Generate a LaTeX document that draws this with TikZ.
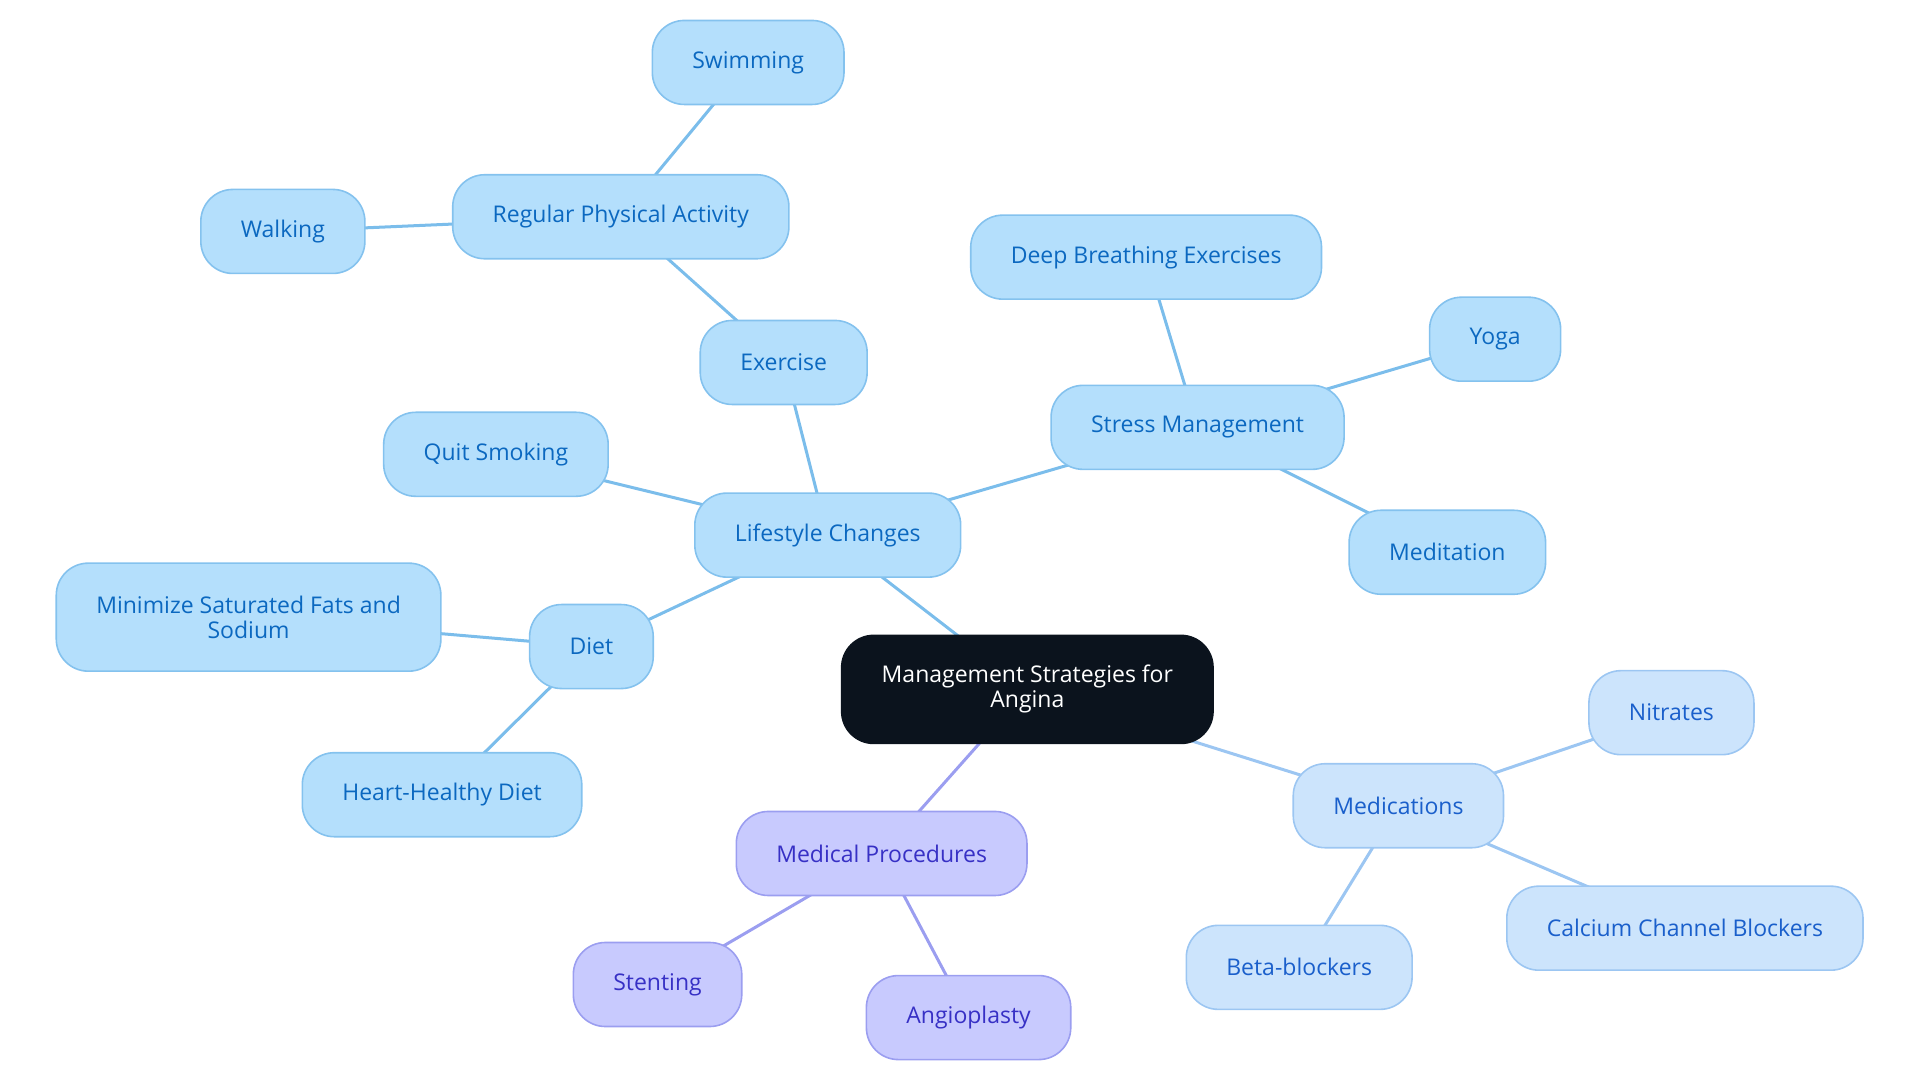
\documentclass[tikz,border=0pt]{standalone}
\usepackage{fontspec}
\setmainfont{Open Sans}
\usepackage{tikz}
\usetikzlibrary{backgrounds}
\definecolor{lcfill}{HTML}{B4DFFC}
\definecolor{lcdraw}{HTML}{84C2EE}
\definecolor{lcline}{HTML}{7BBDEB}
\definecolor{lctext}{HTML}{0B68C0}
\definecolor{mdfill}{HTML}{CCE4FC}
\definecolor{mddraw}{HTML}{9CC6F2}
\definecolor{mdtext}{HTML}{1A5FCB}
\definecolor{mpfill}{HTML}{C8CAFE}
\definecolor{mpdraw}{HTML}{9B9EF0}
\definecolor{mptext}{HTML}{3730C5}
\definecolor{rootfill}{HTML}{0B131D}
\tikzset{
  % node styles
  topic/.style={rectangle, rounded corners=16pt, minimum height=42pt, inner xsep=20pt,
    align=center, font=\fontsize{11.5}{12.5}\selectfont, line width=0.8pt},
  root/.style={topic, fill=rootfill, draw=rootfill, text=white, minimum height=54pt},
  life/.style={topic, fill=lcfill, draw=lcdraw, text=lctext},
  meds/.style={topic, fill=mdfill, draw=mddraw, text=mdtext},
  proc/.style={topic, fill=mpfill, draw=mpdraw, text=mptext},
  % edge styles
  lline/.style={draw=lcline, line width=1.5pt},
  mline/.style={draw=mddraw, line width=1.5pt},
  pline/.style={draw=mpdraw, line width=1.5pt},
}
\begin{document}
\begin{tikzpicture}[x=0.6122pt, y=-0.6122pt]
  \useasboundingbox (0,0) rectangle (1568,884.5);
  % root
  \node[root, minimum width=185pt] (msa) at (839,563) {Management Strategies for\\Angina};
  % lifestyle branch
  \node[life] (lc) at (676,437) {Lifestyle Changes};
  \node[life] (ex) at (640,296) {Exercise};
  \node[life] (rpa) at (507,177) {Regular Physical Activity};
  \node[life] (swim) at (611,51) {Swimming};
  \node[life] (walk) at (231,189) {Walking};
  \node[life] (sm) at (978,349) {Stress Management};
  \node[life] (dbe) at (936,210) {Deep Breathing Exercises};
  \node[life] (yoga) at (1221,277) {Yoga};
  \node[life] (medit) at (1182,451) {Meditation};
  \node[life] (qs) at (405,371) {Quit Smoking};
  \node[life] (diet) at (483,528) {Diet};
  \node[life, minimum width=190pt, minimum height=54pt] (msf) at (203,504) {Minimize Saturated Fats and\\Sodium};
  \node[life] (hhd) at (361,649) {Heart-Healthy Diet};
  % medications branch
  \node[meds] (med) at (1142,658) {Medications};
  \node[meds] (nit) at (1365,582) {Nitrates};
  \node[meds] (ccb) at (1376,758) {Calcium Channel Blockers};
  \node[meds] (bb) at (1061,790) {Beta-blockers};
  % procedures branch
  \node[proc] (mp) at (720,697) {Medical Procedures};
  \node[proc] (stent) at (537,804) {Stenting};
  \node[proc] (angio) at (791,831) {Angioplasty};
  % connectors (centre to centre, under the boxes)
  \begin{scope}[on background layer]
    \draw[lline] (msa.center) -- (lc.center);
    \draw[lline] (lc.center) -- (ex.center) (ex.center) -- (rpa.center)
      (rpa.center) -- (swim.center) (rpa.center) -- (walk.center);
    \draw[lline] (lc.center) -- (sm.center) (sm.center) -- (dbe.center)
      (sm.center) -- (yoga.center) (sm.center) -- (medit.center);
    \draw[lline] (lc.center) -- (qs.center);
    \draw[lline] (lc.center) -- (diet.center) (diet.center) -- (msf.center)
      (diet.center) -- (hhd.center);
    \draw[mline] (msa.center) -- (med.center) (med.center) -- (nit.center)
      (med.center) -- (ccb.center) (med.center) -- (bb.center);
    \draw[pline] (msa.center) -- (mp.center) (mp.center) -- (stent.center)
      (mp.center) -- (angio.center);
  \end{scope}
\end{tikzpicture}
\end{document}
